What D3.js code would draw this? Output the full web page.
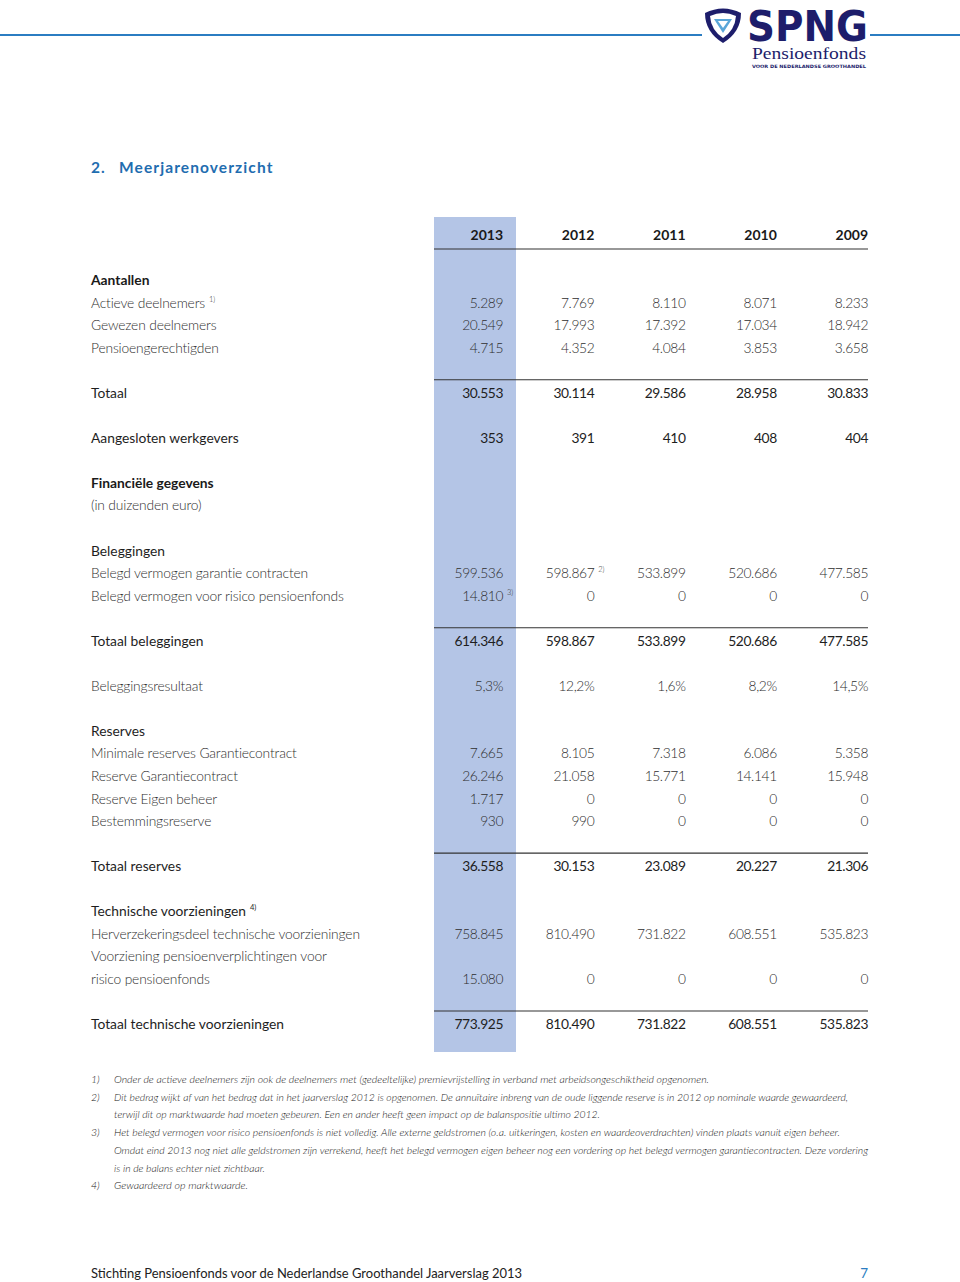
<!DOCTYPE html>
<html>
<head>
<meta charset="utf-8">
<script src="https://cdn.jsdelivr.net/npm/d3@7"></script>
<style>
  body { margin: 0; background: #fff; }
  svg text { font-family: Lato, "Open Sans", sans-serif; }
</style>
</head>
<body>
<svg class="page" width="960" height="1282"></svg>
<script>
// columns
const years = [2013, 2012, 2011, 2010, 2009];

// Aantallen
const actieveDeelnemers = [5289, 7769, 8110, 8071, 8233];
const gewezenDeelnemers = [20549, 17993, 17392, 17034, 18942];
const pensioengerechtigden = [4715, 4352, 4084, 3853, 3658];
const totaalAantallen = [30553, 30114, 29586, 28958, 30833];
const werkgevers = [353, 391, 410, 408, 404];

// Financiele gegevens (x 1000 euro)
const belegdGarantie = [599536, 598867, 533899, 520686, 477585];
const belegdRisico = [14810, 0, 0, 0, 0];
const totaalBeleggingen = [614346, 598867, 533899, 520686, 477585];
const beleggingsresultaat = [5.3, 12.2, 1.6, 8.2, 14.5];
const minimaleReserves = [7665, 8105, 7318, 6086, 5358];
const reserveGarantie = [26246, 21058, 15771, 14141, 15948];
const reserveEigenBeheer = [1717, 0, 0, 0, 0];
const bestemmingsreserve = [930, 990, 0, 0, 0];
const totaalReserves = [36558, 30153, 23089, 20227, 21306];
const herverzekeringsdeel = [758845, 810490, 731822, 608551, 535823];
const voorzieningRisico = [15080, 0, 0, 0, 0];
const totaalTechnisch = [773925, 810490, 731822, 608551, 535823];

const footnotes = [
  ['1)', ['Onder de actieve deelnemers zijn ook de deelnemers met (gedeeltelijke) premievrijstelling in verband met arbeidsongeschiktheid opgenomen.']],
  ['2)', ['Dit bedrag wijkt af van het bedrag dat in het jaarverslag 2012 is opgenomen. De annuïtaire inbreng van de oude liggende reserve is in 2012 op nominale waarde gewaardeerd,',
          'terwijl dit op marktwaarde had moeten gebeuren. Een en ander heeft geen impact op de balanspositie ultimo 2012.']],
  ['3)', ['Het belegd vermogen voor risico pensioenfonds is niet volledig. Alle externe geldstromen (o.a. uitkeringen, kosten en waardeoverdrachten) vinden plaats vanuit eigen beheer.',
          'Omdat eind 2013 nog niet alle geldstromen zijn verrekend, heeft het belegd vermogen eigen beheer nog een vordering op het belegd vermogen garantiecontracten. Deze vordering',
          'is in de balans echter niet zichtbaar.']],
  ['4)', ['Gewaardeerd op marktwaarde.']]
];
// right ends of footnote lines as printed
const footnoteEnds = [[709], [848, 600], [840, 868, 265], [248]];

// row table: slot, label, values, kind
const rows = [
  { slot: 0, label: 'Aantallen', kind: 'bold' },
  { slot: 1, label: 'Actieve deelnemers', note: '1)', values: actieveDeelnemers, kind: 'light' },
  { slot: 2, label: 'Gewezen deelnemers', values: gewezenDeelnemers, kind: 'light' },
  { slot: 3, label: 'Pensioengerechtigden', values: pensioengerechtigden, kind: 'light' },
  { slot: 5, label: 'Totaal', values: totaalAantallen, kind: 'dark', rule: true },
  { slot: 7, label: 'Aangesloten werkgevers', values: werkgevers, kind: 'dark' },
  { slot: 9, label: 'Financiële gegevens', kind: 'bold' },
  { slot: 10, label: '(in duizenden euro)', kind: 'light' },
  { slot: 12, label: 'Beleggingen', kind: 'dark' },
  { slot: 13, label: 'Belegd vermogen garantie contracten', values: belegdGarantie, kind: 'light', valueNotes: { 1: '2)' } },
  { slot: 14, label: 'Belegd vermogen voor risico pensioenfonds', values: belegdRisico, kind: 'light', valueNotes: { 0: '3)' } },
  { slot: 16, label: 'Totaal beleggingen', values: totaalBeleggingen, kind: 'dark', rule: true },
  { slot: 18, label: 'Beleggingsresultaat', values: beleggingsresultaat, kind: 'light', pct: true },
  { slot: 20, label: 'Reserves', kind: 'dark' },
  { slot: 21, label: 'Minimale reserves Garantiecontract', values: minimaleReserves, kind: 'light' },
  { slot: 22, label: 'Reserve Garantiecontract', values: reserveGarantie, kind: 'light' },
  { slot: 23, label: 'Reserve Eigen beheer', values: reserveEigenBeheer, kind: 'light' },
  { slot: 24, label: 'Bestemmingsreserve', values: bestemmingsreserve, kind: 'light' },
  { slot: 26, label: 'Totaal reserves', values: totaalReserves, kind: 'dark', rule: true },
  { slot: 28, label: 'Technische voorzieningen', note: '4)', kind: 'dark' },
  { slot: 29, label: 'Herverzekeringsdeel technische voorzieningen', values: herverzekeringsdeel, kind: 'light' },
  { slot: 30, label: 'Voorziening pensioenverplichtingen voor', kind: 'light' },
  { slot: 31, label: 'risico pensioenfonds', values: voorzieningRisico, kind: 'light' },
  { slot: 33, label: 'Totaal technische voorzieningen', values: totaalTechnisch, kind: 'dark', rule: true }
];

const nl = d3.formatLocale({ decimal: ',', thousands: '.', grouping: [3], currency: ['€ ', ''] });
const fmtInt = nl.format(',d');
const fmtPct = nl.format('.1f');

const styles = {
  bold: { weight: 700, fill: '#1a1a1a' },
  dark: { weight: 400, fill: '#1e1e1e' },
  light: { weight: 300, fill: '#2e2e2e' }
};

const svg = d3.select('.page');

// scales
let x = d3.scalePoint().domain(years).range([503, 868]);
let y = d3.scaleLinear().domain([0, 33]).range([285, 1029]);
let labelX = 91;
let ruleLeft = 434, ruleRight = 868;

// top bar + logo
const blue = '#2b7dc2';
svg.append('line').attr('x1', 0).attr('x2', 702).attr('y1', 35).attr('y2', 35)
  .attr('stroke', blue).attr('stroke-width', 2);
svg.append('line').attr('x1', 870).attr('x2', 960).attr('y1', 35).attr('y2', 35)
  .attr('stroke', blue).attr('stroke-width', 2);

let logo = svg.append('g').attr('class', 'logo');
const navy = '#1d1d6b';
logo.append('path')
  .attr('d', 'M705,13 Q723,4 741,13 Q741,32 723,43 Q705,32 705,13 Z')
  .attr('fill', navy);
logo.append('path')
  .attr('d', 'M710,16 Q723,10 736,16 Q735,30 723,38 Q711,30 710,16 Z')
  .attr('fill', '#fff');
logo.append('path')
  .attr('d', 'M714,19 L732,19 L723,33 Z')
  .attr('fill', '#5aa6d8');
logo.append('path')
  .attr('d', 'M718,21 L728,21 L723,28 Z')
  .attr('fill', '#fff');
logo.append('text').attr('x', 747).attr('y', 41)
  .attr('textLength', 121).attr('lengthAdjust', 'spacingAndGlyphs')
  .style('font-family', '"DejaVu Sans", sans-serif').attr('font-weight', 700)
  .attr('font-size', 42).attr('fill', navy).text('SPNG');
logo.append('text').attr('x', 752).attr('y', 59)
  .attr('textLength', 114).attr('lengthAdjust', 'spacingAndGlyphs')
  .style('font-family', '"Liberation Serif", serif')
  .attr('font-size', 16.5).attr('fill', navy).text('Pensioenfonds');
logo.append('text').attr('x', 752).attr('y', 67.5)
  .attr('textLength', 114).attr('lengthAdjust', 'spacingAndGlyphs')
  .style('font-family', '"DejaVu Sans", sans-serif').attr('font-weight', 700)
  .attr('font-size', 4.5).attr('fill', navy).text('VOOR DE NEDERLANDSE GROOTHANDEL');

// title
let title = svg.append('text').attr('y', 173).attr('fill', '#1f6db0')
  .attr('font-size', 15.5).attr('font-weight', 700).attr('letter-spacing', 1.1);
title.append('tspan').attr('x', labelX).text('2.');
title.append('tspan').attr('x', 119).text('Meerjarenoverzicht');

// highlighted 2013 column
svg.append('rect').attr('x', ruleLeft).attr('y', 217)
  .attr('width', 82).attr('height', 1052 - 217).attr('fill', '#b4c5e6');

// header
svg.append('g').selectAll('text').data(years).enter().append('text')
  .attr('x', d => x(d)).attr('y', 240).attr('text-anchor', 'end')
  .attr('font-size', 14).attr('font-weight', 700).attr('fill', '#1a1a1a')
  .text(d => d);
svg.append('line').attr('x1', ruleLeft).attr('x2', ruleRight).attr('y1', 249).attr('y2', 249)
  .attr('stroke', '#333').attr('stroke-width', 1.2);

// rows
let rowG = svg.append('g').selectAll('.row').data(rows).enter()
  .append('g').attr('class', 'row')
  .attr('transform', d => 'translate(0,' + y(d.slot) + ')');

rowG.filter(d => d.rule).append('line')
  .attr('x1', ruleLeft).attr('x2', ruleRight).attr('y1', -18).attr('y2', -18)
  .attr('stroke', '#333').attr('stroke-width', 1.2);

let lbl = rowG.append('text').attr('x', labelX)
  .attr('font-size', 13.8)
  .attr('letter-spacing', d => d.kind == 'light' ? -0.15 : 0)
  .attr('font-weight', d => styles[d.kind].weight)
  .attr('fill', d => styles[d.kind].fill);
lbl.append('tspan').text(d => d.label);
lbl.filter(d => d.note).append('tspan')
  .attr('dx', 4).attr('dy', -6).attr('font-size', 7.5).text(d => d.note);

rowG.filter(d => d.values).each(function (d) {
  let g = d3.select(this);
  let cells = years.map((yr, i) => ({ yr: yr, v: d.values[i], note: d.valueNotes ? d.valueNotes[i] : null }));
  g.selectAll('.val').data(cells).enter().append('text').attr('class', 'val')
    .attr('x', c => x(c.yr)).attr('text-anchor', 'end')
    .attr('font-size', 13.8)
    .attr('letter-spacing', -0.4)
    .attr('font-weight', styles[d.kind].weight)
    .attr('fill', styles[d.kind].fill)
    .text(c => d.pct ? fmtPct(c.v) + '%' : fmtInt(c.v));
  g.selectAll('.vnote').data(cells.filter(c => c.note)).enter().append('text')
    .attr('x', c => x(c.yr) + 4).attr('y', -6)
    .attr('font-size', 7.5).attr('font-weight', 300).attr('fill', '#2e2e2e')
    .text(c => c.note);
});

// footnotes
let fy = 1083;
footnotes.forEach((f, i) => {
  svg.append('text').attr('x', labelX).attr('y', fy)
    .attr('font-size', 10.5).attr('font-style', 'italic').attr('font-weight', 300)
    .attr('fill', '#222').text(f[0]);
  f[1].forEach((line, j) => {
    svg.append('text').attr('x', 114).attr('y', fy)
      .attr('font-size', 10.5).attr('font-style', 'italic').attr('font-weight', 300)
      .attr('fill', '#222')
      .attr('textLength', footnoteEnds[i][j] - 114).attr('lengthAdjust', 'spacingAndGlyphs')
      .text(line);
    fy += 17.7;
  });
});

// footer
svg.append('text').attr('x', labelX).attr('y', 1278)
  .attr('font-size', 13.5).attr('fill', '#222')
  .attr('textLength', 431).attr('lengthAdjust', 'spacingAndGlyphs')
  .text('Stichting Pensioenfonds voor de Nederlandse Groothandel Jaarverslag 2013');
svg.append('text').attr('x', 868).attr('y', 1278).attr('text-anchor', 'end')
  .attr('font-size', 13.5).attr('fill', blue).text('7');
</script>
</body>
</html>
